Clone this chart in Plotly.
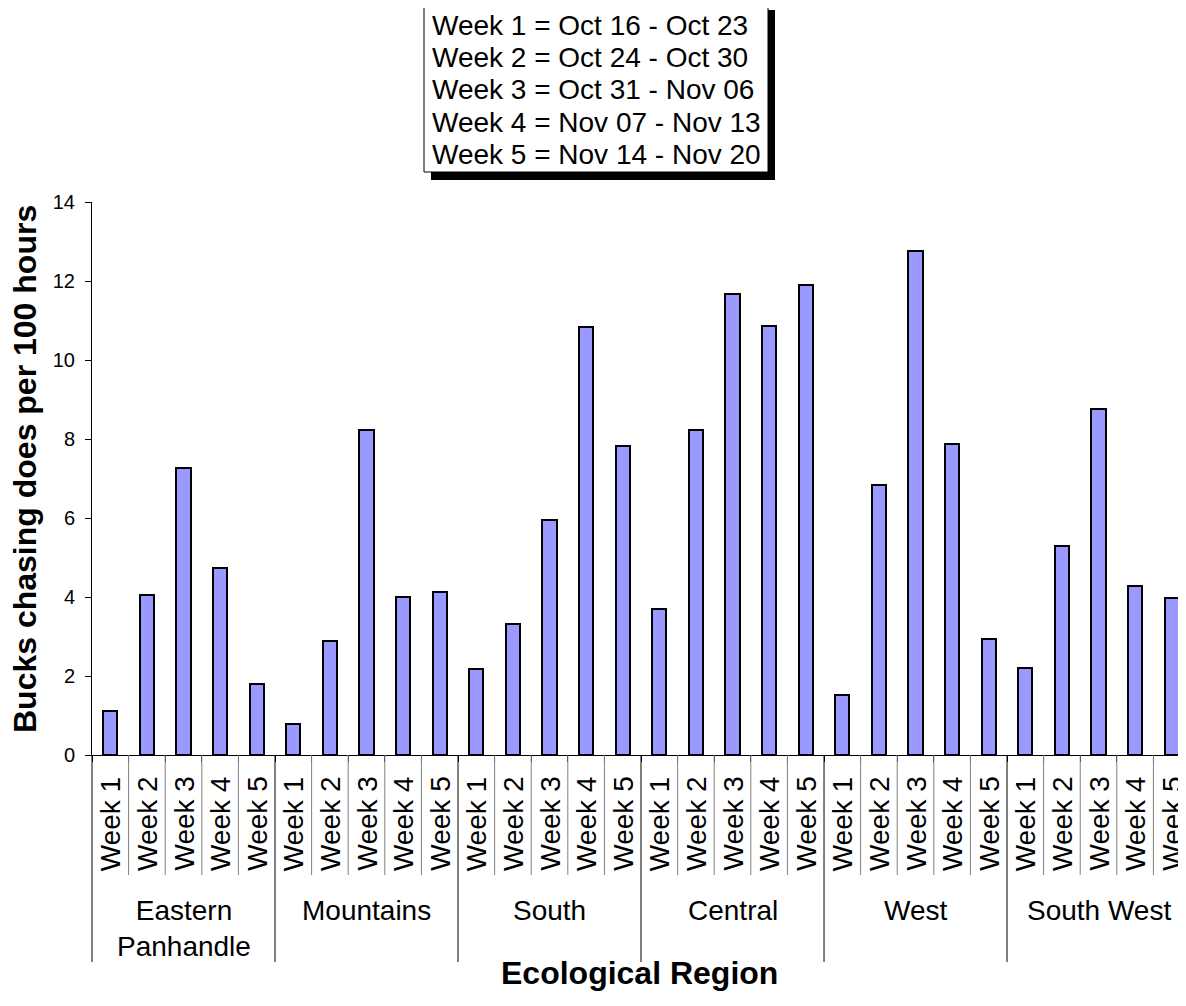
import plotly.graph_objects as go

# ---------------- data ----------------
regions = ["Eastern<br>Panhandle", "Mountains", "South", "Central", "West", "South West"]
weeks = ["Week 1", "Week 2", "Week 3", "Week 4", "Week 5"]
eastern_panhandle = [1.12, 4.05, 7.26, 4.74, 1.79]
mountains = [0.78, 2.88, 8.23, 3.99, 4.13]
south = [2.17, 3.31, 5.94, 10.83, 7.83]
central = [3.70, 8.24, 11.66, 10.87, 11.91]
west = [1.53, 6.84, 12.76, 7.88, 2.93]
south_west = [2.20, 5.28, 8.75, 4.29, 3.97]
legend_lines = [
    "Week 1 = Oct 16 - Oct 23",
    "Week 2 = Oct 24 - Oct 30",
    "Week 3 = Oct 31 - Nov 06",
    "Week 4 = Nov 07 - Nov 13",
    "Week 5 = Nov 14 - Nov 20",
]
y_ticks = [0, 2, 4, 6, 8, 10, 12, 14]
y_title = "Bucks chasing does per 100 hours"
x_title = "Ecological Region"

series = [eastern_panhandle, mountains, south, central, west, south_west]
values = [v for s in series for v in s]
n = len(values)
x_idx = list(range(n))

# ---------------- geometry ----------------
OFF = 8  # page body margin
W, H = 1186 - OFF, 1006 - OFF
L, R, T, B = 92, 1186, 202, 755  # plot area in window pixels
XR = [-0.5, 29.39]
FONT = "Arial, Liberation Sans, sans-serif"


def px_x(x):
    return (x - L) / (R - L)


def px_y(y):
    return (B - y) / (B - T)


def dx(v):  # data x -> paper
    return (v - XR[0]) / (XR[1] - XR[0])


fig = go.Figure()
fig.add_trace(go.Bar(
    x=x_idx, y=values, width=0.39,
    marker=dict(color="#9999FF", line=dict(color="black", width=2)),
    hoverinfo="y",
))

shapes = []
annotations = []

# separators below the x axis
nweeks = len(weeks)
for i in range(n + 1):
    xb = i - 0.5
    if xb > XR[1]:
        continue
    is_region = (i % nweeks == 0)
    shapes.append(dict(
        type="line", xref="paper", yref="paper",
        x0=dx(xb), x1=dx(xb), y0=0, y1=px_y(962 if is_region else 875),
        line=dict(color="black" if is_region else "#808080", width=1),
    ))

# week labels
for i in range(n):
    annotations.append(dict(
        x=i, xref="x", y=px_y(824), yref="paper",
        text=weeks[i % nweeks], textangle=-90, showarrow=False,
        xanchor="center", yanchor="middle",
        font=dict(family=FONT, size=28, color="black"),
    ))

# region labels
for k, reg in enumerate(regions):
    annotations.append(dict(
        x=k * nweeks + (nweeks - 1) / 2, xref="x", y=px_y(893), yref="paper",
        text=reg, showarrow=False, xanchor="center", yanchor="top",
        font=dict(family=FONT, size=28, color="black"),
    ))

# axis titles
annotations.append(dict(
    x=0.5, xref="paper", y=px_y(973), yref="paper", text="<b>%s</b>" % x_title,
    showarrow=False, xanchor="center", yanchor="middle",
    font=dict(family=FONT, size=32, color="black"),
))
annotations.append(dict(
    x=px_x(25), xref="paper", y=px_y(469), yref="paper", text="<b>%s</b>" % y_title,
    textangle=-90, showarrow=False, xanchor="center", yanchor="middle",
    font=dict(family=FONT, size=32, color="black"),
))

# legend box with shadow
shapes.append(dict(type="rect", xref="paper", yref="paper",
                   x0=px_x(431), x1=px_x(775), y0=px_y(180), y1=px_y(10),
                   fillcolor="black", line=dict(width=0), layer="above"))
shapes.append(dict(type="rect", xref="paper", yref="paper",
                   x0=px_x(424), x1=px_x(768), y0=px_y(172), y1=px_y(4),
                   fillcolor="white", line=dict(color="black", width=1), layer="above"))
for j, line in enumerate(legend_lines):
    annotations.append(dict(
        x=px_x(430), xref="paper", y=px_y(25 + j * 32.4), yref="paper",
        text=line, showarrow=False, xanchor="left", yanchor="middle",
        font=dict(family=FONT, size=28, color="black"),
    ))

fig.update_layout(
    width=W, height=H, autosize=False,
    margin=dict(l=L - OFF, r=1186 - R, t=T - OFF, b=1006 - B, pad=0),
    paper_bgcolor="white", plot_bgcolor="white",
    showlegend=False, bargap=0,
    shapes=shapes, annotations=annotations,
    font=dict(family=FONT, color="black"),
)
fig.update_xaxes(
    range=XR, showgrid=False, zeroline=False, showline=True, linecolor="black", linewidth=1,
    tickmode="array", tickvals=[i - 0.5 for i in range(n + 1)], ticktext=[""] * (n + 1),
    ticks="outside", ticklen=6, tickcolor="black", tickwidth=1, showticklabels=False,
    fixedrange=True,
)
fig.update_yaxes(
    range=[0, 14], tickmode="array", tickvals=y_ticks, ticktext=[str(t) for t in y_ticks],
    showgrid=False, zeroline=False, showline=True, linecolor="black", linewidth=1,
    ticks="outside", ticklen=6, tickcolor="black", tickwidth=1,
    tickfont=dict(family=FONT, size=20, color="black"), ticklabelstandoff=6,
    fixedrange=True,
)

fig.write_html("out.html")
